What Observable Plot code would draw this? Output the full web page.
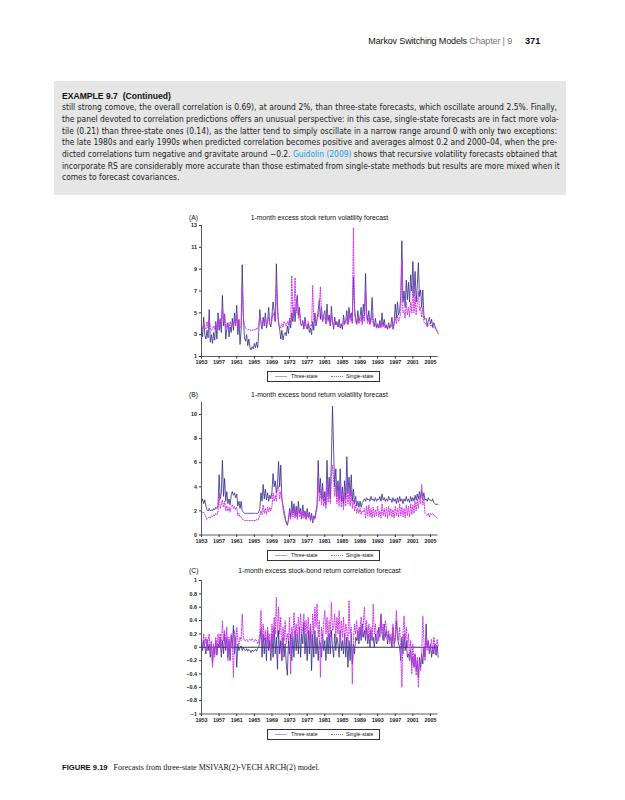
<!DOCTYPE html>
<html><head><meta charset="utf-8">
<script src="https://cdn.jsdelivr.net/npm/d3@7"></script>
<script src="https://cdn.jsdelivr.net/npm/@observablehq/plot@0.6"></script>
<style>
html,body{margin:0;padding:0;background:#fff;}
#page{position:relative;width:625px;height:800px;overflow:hidden;font-family:"Liberation Sans",Arial,sans-serif;color:#111;}
.abs{position:absolute;white-space:nowrap;}
.body{font-family:"Liberation Sans Narrow","DejaVu Sans Condensed","Liberation Sans",sans-serif;font-size:8.4px;line-height:12px;height:12px;left:62px;width:495px;text-align:justify;text-align-last:justify;color:#1a1a1a;}
.ttl{font-size:6.8px;line-height:8px;}
.legend{position:absolute;border:1px solid #333;height:9px;width:111px;left:267px;background:#fff;}
.legend .s3{position:absolute;left:7px;top:4px;width:12px;border-top:1px solid #a79fe0;}
.legend .s1{position:absolute;left:63px;top:4px;width:12px;border-top:1.3px dotted #cc33ee;}
.legend .t{position:absolute;top:0;font-size:5.2px;line-height:9px;}
.plot{position:absolute;left:0;}
</style></head><body><div id="page">

<div class="abs" style="right:113px;top:35px;font-family:'Liberation Sans Narrow','Liberation Sans',sans-serif;font-size:9px;letter-spacing:-0.15px;line-height:12px;">Markov Switching Models <span style="color:#777">Chapter | 9</span></div>
<div class="abs" style="left:525px;top:35px;font-family:'Liberation Sans Narrow','Liberation Sans',sans-serif;font-size:9.2px;line-height:12px;font-weight:bold;">371</div>

<div class="abs" style="left:54px;top:81px;width:512px;height:114px;background:#e6e6e6;"></div>
<div class="abs" style="left:62px;top:90px;font-family:'Liberation Sans Narrow','Liberation Sans',sans-serif;font-size:8.6px;line-height:12px;font-weight:bold;">EXAMPLE 9.7&nbsp; (Continued)</div>
<div class="abs body" style="top:101px;">still strong comove, the overall correlation is 0.69), at around 2%, than three-state forecasts, which oscillate around 2.5%. Finally,</div>
<div class="abs body" style="top:113px;">the panel devoted to correlation predictions offers an unusual perspective: in this case, single-state forecasts are in fact more vola-</div>
<div class="abs body" style="top:124.5px;">tile (0.21) than three-state ones (0.14), as the latter tend to simply oscillate in a narrow range around 0 with only two exceptions:</div>
<div class="abs body" style="top:136px;">the late 1980s and early 1990s when predicted correlation becomes positive and averages almost 0.2 and 2000–04, when the pre-</div>
<div class="abs body" style="top:148px;">dicted correlations turn negative and gravitate around −0.2. <span style="color:#1b9bd1">Guidolin (2009)</span> shows that recursive volatility forecasts obtained that</div>
<div class="abs body" style="top:159.5px;">incorporate RS are considerably more accurate than those estimated from single-state methods but results are more mixed when it</div>
<div class="abs body" style="top:171px;text-align-last:left;width:auto;">comes to forecast covariances.</div>

<div class="abs ttl" style="left:189px;top:214px;">(A)</div>
<div class="abs ttl" style="left:201px;width:237px;text-align:center;top:214px;">1-month excess stock return volatility forecast</div>
<div id="pA" class="plot" style="top:222px;"></div>
<div class="legend" style="top:371px;"><div class="s3"></div><div class="t" style="left:23px;">Three-state</div><div class="s1"></div><div class="t" style="left:78px;">Single-state</div></div>

<div class="abs ttl" style="left:189px;top:391px;">(B)</div>
<div class="abs ttl" style="left:201px;width:237px;text-align:center;top:391px;">1-month excess bond return volatility forecast</div>
<div id="pB" class="plot" style="top:399px;"></div>
<div class="legend" style="top:550px;"><div class="s3"></div><div class="t" style="left:23px;">Three-state</div><div class="s1"></div><div class="t" style="left:78px;">Single-state</div></div>

<div class="abs ttl" style="left:189px;top:567px;">(C)</div>
<div class="abs ttl" style="left:201px;width:237px;text-align:center;top:567px;">1-month excess stock-bond return correlation forecast</div>
<div id="pC" class="plot" style="top:577px;"></div>
<div class="legend" style="top:729px;"><div class="s3"></div><div class="t" style="left:23px;">Three-state</div><div class="s1"></div><div class="t" style="left:78px;">Single-state</div></div>

<div class="abs" style="left:62px;top:762px;font-size:7.6px;line-height:12px;"><b style="font-family:'Liberation Sans Narrow','Liberation Sans',sans-serif;">FIGURE 9.19</b><span style="font-family:'Liberation Serif',serif;font-size:8px;">&nbsp;&nbsp;&nbsp;Forecasts from three-state MSIVAR(2)-VECH ARCH(2) model.</span></div>

</div>
<script>
// quarterly observations, 1953Q1 .. 2006Q4
const start = 1953, step = 0.25;
const xTicks = [1953,1957,1961,1965,1969,1973,1977,1981,1985,1989,1993,1997,2001,2005];
const xLabels = ["1953","1957","1961","1965","1969","1973","1977","1981","1985","1989","1993","1997","2001","2005"];

const yTicksA = [1,3,5,7,9,11,13];
const yLabelsA = ["1","3","5","7","9","11","13"];
const yTicksB = [0,2,4,6,8,10];
const yLabelsB = ["0","2","4","6","8","10"];
const yTicksC = [-1,-0.8,-0.6,-0.4,-0.2,0,0.2,0.4,0.6,0.8,1];
const yLabelsC = ["\u22121","\u22120.8","\u22120.6","\u22120.4","\u22120.2","0","0.2","0.4","0.6","0.8","1"];

const threeA = [
3.6,2.8,4.6,3.0, 2.6,3.4,2.7,5.3, 2.3,3.0,2.2,3.2, 2.5,4.2,2.6,5.0, 3.4,4.4,3.2,6.6,
3.8,4.9,2.6,3.5, 4.1,2.8,3.7,3.2, 4.5,3.4,5.0,3.8, 5.7,3.0,4.4,2.1, 3.5,9.4,4.8,2.7,
2.4,3.0,2.0,2.6, 1.8,1.6,1.9,1.7, 2.2,1.8,2.3,1.8, 3.2,5.3,4.0,3.5, 4.6,3.8,5.0,3.6,
4.2,5.5,4.0,3.7, 4.8,6.0,5.2,4.2, 9.5,5.8,4.0,3.5, 2.6,3.4,2.5,3.0, 3.2,2.9,3.8,3.1,
4.5,3.6,5.0,4.2, 5.5,4.2,5.8,6.6, 4.8,5.5,4.0,3.8, 4.3,3.5,4.6,3.7, 3.5,4.0,3.2,3.6,
3.0,4.2,3.4,5.0, 3.8,4.5,5.2,6.2, 4.4,5.5,4.2,4.8, 5.2,4.0,5.8,4.3, 4.8,3.8,5.6,4.2,
3.5,4.6,3.9,4.2, 3.7,4.4,3.6,4.0, 3.5,4.8,4.0,4.3, 5.2,4.0,5.5,4.5, 5.0,4.2,8.3,5.5,
4.5,4.0,5.2,4.2, 4.6,5.5,4.2,5.8, 4.7,8.6,5.0,4.3, 5.2,4.0,4.6,6.4, 4.2,3.8,4.5,3.6,
4.0,3.6,4.3,3.7, 5.0,3.8,4.4,3.6, 3.9,3.5,4.1,3.6, 3.9,4.6,3.5,4.2, 5.8,4.5,6.0,4.8,
5.2,6.5,11.6,6.0, 7.0,5.5,8.0,6.2, 7.8,6.0,8.5,7.0, 9.7,6.5,8.8,6.0, 7.5,9.6,6.5,7.1,
5.5,7.1,4.8,4.4, 4.5,3.8,4.2,4.6, 4.0,4.4,3.7,4.1, 3.8,3.5,3.3,3.1];

const singleA = [
3.8,3.5,4.0,3.6, 3.5,4.2,3.6,4.5, 3.6,3.4,3.5,3.8, 3.5,4.0,3.6,4.3, 3.8,4.5,3.9,5.5,
4.2,4.8,3.6,4.0, 3.8,3.6,4.2,3.7, 4.0,3.8,4.4,3.9, 5.0,3.7,4.2,3.6, 3.8,7.3,4.6,3.9,
3.6,3.5,3.4,3.5, 3.4,3.4,3.4,3.4, 3.5,3.4,3.6,3.5, 3.9,4.8,4.2,4.0, 4.3,4.0,4.5,3.9,
4.2,4.6,4.0,3.9, 4.3,5.0,4.6,4.2, 7.6,5.0,4.2,3.8, 3.6,4.0,3.7,4.2, 4.0,3.8,4.2,3.9,
4.4,4.0,8.4,4.5, 5.5,8.2,5.0,6.2, 4.5,5.0,4.0,3.9, 4.2,3.8,4.3,3.8, 3.7,4.2,3.6,3.9,
3.8,7.5,4.2,4.8, 4.0,4.4,4.6,5.5, 7.4,4.8,4.2,4.5, 4.6,4.0,5.0,4.2, 4.4,3.8,4.8,4.0,
3.8,4.2,3.9,4.0, 3.8,4.1,3.7,3.9, 3.7,4.2,3.9,4.0, 4.5,3.9,5.2,4.2, 4.5,4.0,12.8,5.0,
4.2,3.9,4.5,4.0, 4.2,4.6,3.9,4.8, 4.2,7.0,4.5,4.0, 4.5,3.9,4.2,5.0, 3.9,3.7,4.0,3.6,
3.8,3.6,3.9,3.6, 4.3,3.7,4.0,3.6, 3.7,3.5,3.8,3.6, 3.7,4.0,3.6,3.9, 4.6,4.0,4.8,4.2,
4.5,5.0,10.0,5.0, 5.2,4.5,6.0,4.8, 5.5,4.6,6.0,5.0, 7.5,5.0,6.5,4.8, 5.8,7.0,5.2,5.5,
4.6,5.5,4.2,4.0, 4.0,3.7,3.9,4.0, 3.8,3.9,3.6,3.8, 3.6,3.5,3.4,3.3];

const threeB = [
2.7,3.0,2.6,2.9, 2.4,2.1,2.0,2.2, 2.0,2.1,2.0,2.2, 2.1,2.3,2.2,2.5, 5.0,3.0,3.5,6.2,
3.2,4.7,2.8,3.6, 2.6,3.0,2.5,3.3, 3.6,3.3,3.5,3.1, 3.4,2.4,2.8,2.2, 2.8,2.0,1.9,1.8,
1.8,1.8,1.8,1.8, 1.8,1.8,1.8,1.8, 1.8,1.8,1.8,1.8, 1.9,2.2,3.5,2.8, 4.2,3.0,3.8,2.9,
3.5,2.8,3.3,3.0, 3.6,5.1,4.0,4.5, 3.5,4.2,6.1,4.0, 5.8,3.0,2.5,2.0, 1.5,1.0,0.8,1.3,
2.2,1.5,2.8,1.8, 2.6,1.6,2.4,1.5, 2.8,1.8,2.2,1.4, 2.5,1.6,2.0,1.3, 2.2,1.5,1.9,1.2,
1.8,1.0,1.6,1.4, 2.0,2.5,6.2,3.5, 4.7,3.0,4.3,2.8, 3.6,2.5,6.2,3.2, 4.8,3.0,6.3,10.7,
7.0,4.0,5.5,3.2, 4.5,3.0,5.5,2.8, 4.0,2.6,4.5,3.0, 6.5,3.5,4.8,3.2, 5.0,2.8,3.8,2.6,
3.2,2.4,2.8,2.3, 2.8,2.3,2.7,2.8, 3.0,2.8,3.1,2.9, 3.0,2.8,3.2,2.9, 3.0,2.8,3.1,2.8,
3.0,2.9,3.2,2.8, 3.4,2.9,3.1,2.8, 3.0,2.8,3.2,2.9, 3.0,2.7,3.1,2.8, 3.0,2.6,3.1,2.7,
3.2,2.8,3.0,2.6, 3.0,2.8,3.2,2.8, 3.0,2.7,3.2,2.8, 3.1,2.8,3.3,2.9, 3.4,3.0,3.6,3.1,
3.7,3.0,3.5,2.9, 3.0,2.8,3.1,2.9, 2.9,2.8,3.0,2.7, 2.6,2.5,2.6,2.5];

const singleB = [
1.9,1.8,1.9,1.7, 1.5,1.3,1.4,1.5, 1.4,1.6,1.5,1.7, 1.6,1.8,1.7,2.0, 3.5,2.2,2.5,2.9,
2.3,2.8,2.0,2.4, 2.0,2.3,1.9,2.4, 2.5,2.2,2.4,2.1, 2.3,1.6,1.8,1.5, 1.5,1.3,1.3,1.2,
1.2,1.2,1.2,1.2, 1.2,1.2,1.2,1.2, 1.2,1.2,1.3,1.2, 1.4,1.6,2.0,1.7, 2.5,1.8,2.2,1.7,
2.3,1.9,2.3,2.0, 2.4,3.5,2.8,3.3, 2.8,4.2,4.0,3.0, 3.6,3.0,2.2,1.6, 1.3,1.0,0.9,1.2,
1.8,1.3,2.2,1.5, 2.1,1.4,2.0,1.3, 2.3,1.5,1.9,1.3, 2.1,1.4,1.8,1.3, 1.9,1.4,1.7,1.2,
1.6,1.1,1.5,1.3, 1.8,2.2,4.8,2.8, 3.8,2.5,3.5,2.4, 3.0,2.2,4.5,2.7, 3.8,2.6,4.8,5.8,
4.6,3.2,4.2,2.6, 3.5,2.4,4.2,2.3, 3.2,2.1,3.5,2.4, 4.5,2.6,3.6,2.4, 3.7,2.2,2.9,2.0,
2.5,1.8,2.2,1.8, 2.2,1.7,2.0,1.9, 2.2,1.4,2.4,1.6, 2.5,1.5,2.2,1.4, 2.3,1.5,2.1,1.6,
2.4,1.5,2.0,1.4, 2.6,1.6,2.2,1.5, 2.3,1.4,2.4,1.6, 2.2,1.5,2.1,1.4, 2.4,1.6,2.2,1.5,
2.6,1.6,2.3,1.5, 2.2,1.4,2.5,1.6, 2.4,1.5,2.6,1.7, 2.5,1.8,2.8,2.0, 3.0,2.2,3.2,2.6,
4.2,2.5,3.0,1.8, 1.7,1.6,1.8,1.5, 1.8,1.7,1.8,1.6, 1.6,1.5,1.4,1.4];

const threeC = [
0.05,-0.05,0.1,0.0, -0.1,0.12,-0.05,0.05, -0.15,0.08,-0.25,0.02, -0.1,0.1,-0.12,0.05, 0.0,0.15,-0.15,0.1,
-0.1,0.2,-0.05,0.15, -0.15,0.1,-0.2,0.18, 0.0,0.33,-0.1,0.15, -0.3,0.05,-0.05,0.0, 0.02,-0.05,0.0,-0.04,
-0.05,-0.02,-0.06,-0.03, -0.05,-0.08,-0.04,-0.06, -0.05,-0.03,-0.06,-0.02, 0.0,0.1,0.28,-0.15, 0.2,-0.1,0.15,-0.2,
0.25,-0.05,0.1,-0.2, 0.2,-0.15,0.3,-0.1, 0.15,-0.33,0.25,-0.1, 0.1,-0.2,0.15,-0.15, 0.05,-0.25,-0.42,0.1,
-0.1,0.2,-0.2,0.15, -0.15,0.25,-0.05,0.2, -0.1,0.3,-0.15,0.2, 0.05,0.38,-0.1,0.2, -0.2,0.25,-0.1,0.3,
-0.35,0.2,-0.15,0.25, -0.1,0.15,-0.2,0.1, 0.05,-0.15,0.2,-0.05, 0.1,-0.2,0.15,-0.1, 0.2,-0.1,0.25,0.0,
-0.15,0.2,-0.05,0.15, 0.05,-0.15,0.25,-0.05, 0.1,-0.1,0.2,-0.15, 0.15,-0.3,0.1,-0.2, 0.2,-0.25,0.05,-0.1,
0.15,0.1,0.25,0.05, 0.3,0.1,0.35,0.15, 0.25,0.1,0.3,0.05, 0.2,0.0,0.25,0.1, 0.15,0.0,0.2,0.05,
0.1,0.3,0.15,0.5, 0.2,0.1,0.35,0.15, 0.25,0.05,0.2,0.1, 0.15,0.0,0.3,0.05, 0.1,0.4,0.15,0.05,
0.0,-0.2,0.15,-0.1, 0.2,-0.05,0.1,-0.15, -0.1,-0.2,-0.05,-0.25, -0.15,-0.3,-0.1,-0.35, -0.2,-0.45,-0.15,-0.3,
-0.1,-0.25,0.0,-0.15, 0.35,0.0,0.1,-0.1, 0.05,-0.15,0.0,-0.1, 0.05,-0.12,0.02,-0.15];

const singleC = [
0.1,0.0,0.2,0.05, 0.15,-0.05,0.1,0.2, -0.1,0.1,-0.3,0.05, -0.15,0.15,-0.1,0.2, 0.05,0.2,-0.05,0.4,
0.1,0.25,0.0,0.3, -0.2,0.15,-0.1,0.2, 0.1,-0.45,0.25,0.05, 0.3,0.1,0.05,0.15, 0.1,0.5,0.15,0.1,
0.1,0.12,0.08,0.1, 0.12,0.1,0.13,0.1, 0.08,0.12,0.1,0.05, 0.1,0.2,0.55,0.05, 0.35,0.1,0.25,0.0,
0.3,0.05,0.2,-0.1, 0.35,0.1,0.45,0.2, 0.75,0.15,0.6,0.2, 0.45,-0.2,0.3,0.1, 0.4,0.05,0.2,0.1,
0.45,-0.4,0.3,0.15, 0.52,0.2,0.35,0.1, 0.45,0.15,0.5,0.2, 0.3,0.5,0.2,0.4, 0.2,0.45,0.1,0.35,
0.0,0.5,0.2,0.6, 0.3,0.65,0.15,0.4, -0.45,0.3,0.1,0.4, 0.55,0.2,0.45,0.1, 0.4,0.15,0.67,0.25,
0.3,0.5,0.15,0.45, 0.2,0.55,0.1,0.4, 0.15,0.45,0.05,0.35, 0.25,0.1,0.7,0.2, 0.3,-0.55,0.1,0.35,
0.2,0.4,0.1,0.3, 0.25,0.45,0.15,0.35, 0.6,0.2,0.4,0.1, 0.35,0.15,0.3,0.1, 0.65,0.2,0.35,0.1,
0.25,0.1,0.3,0.45, 0.2,0.35,0.1,0.4, 0.3,0.15,0.25,0.05, 0.2,0.1,0.35,0.0, 0.2,0.55,0.25,0.1,
0.3,-0.1,-0.6,0.2, 0.47,0.1,0.3,0.0, 0.2,-0.2,0.1,-0.4, 0.05,-0.3,-0.1,-0.42, -0.15,-0.6,-0.2,-0.35,
-0.1,0.47,0.1,-0.2, 0.15,-0.05,0.1,-0.1, 0.0,0.12,-0.1,0.15, 0.05,-0.1,0.12,0.0];

const toRows = arr => arr.map((v, i) => ({t: start + i * step, v}));
const xMax = start + (threeA.length - 1) * step;

function panel(id, three, single, yDomain, yTicks, yLabels, height, zero) {
  const yMap = new Map(yTicks.map((d, i) => [d, yLabels[i]]));
  const xMap = new Map(xTicks.map((d, i) => [d, xLabels[i]]));
  const chart = Plot.plot({
    width: 625, height,
    marginLeft: 201, marginRight: 187.3, marginTop: 3, marginBottom: 18,
    style: {fontFamily: "'Liberation Sans', Arial, sans-serif", background: "transparent", color: "#222", overflow: "visible"},
    x: {domain: [start, xMax]},
    y: {domain: yDomain},
    marks: [
      Plot.axisX({ticks: xTicks, tickFormat: d => xMap.get(d), tickSize: 2.5, tickPadding: 1.5, fontSize: 5.4, fontWeight: "bold", label: null, stroke: "#333"}),
      Plot.axisY({ticks: yTicks, tickFormat: d => yMap.get(d), tickSize: 2, tickPadding: 2.5, fontSize: 5.4, fontWeight: "bold", label: null, stroke: "#333"}),
      zero ? Plot.ruleY([0], {stroke: "#000", strokeWidth: 0.8}) : null,
      Plot.line(toRows(three), {x: "t", y: "v", stroke: "#33288a", strokeWidth: 0.8}),
      Plot.line(toRows(single), {x: "t", y: "v", stroke: "#cc33ee", strokeWidth: 1, strokeDasharray: "1.2,1.4"}),
      Plot.ruleX([start], {stroke: "#333", strokeWidth: 0.8}),
      Plot.ruleY([yDomain[0]], {stroke: "#333", strokeWidth: 0.8})
    ]
  });
  document.getElementById(id).appendChild(chart);
}

panel("pA", threeA, singleA, [1, 13], yTicksA, yLabelsA, 152, false);
panel("pB", threeB, singleB, [0, 11], yTicksB, yLabelsB, 153.5, false);
panel("pC", threeC, singleC, [-1, 1], yTicksC, yLabelsC, 154.5, true);
</script>
</body></html>
